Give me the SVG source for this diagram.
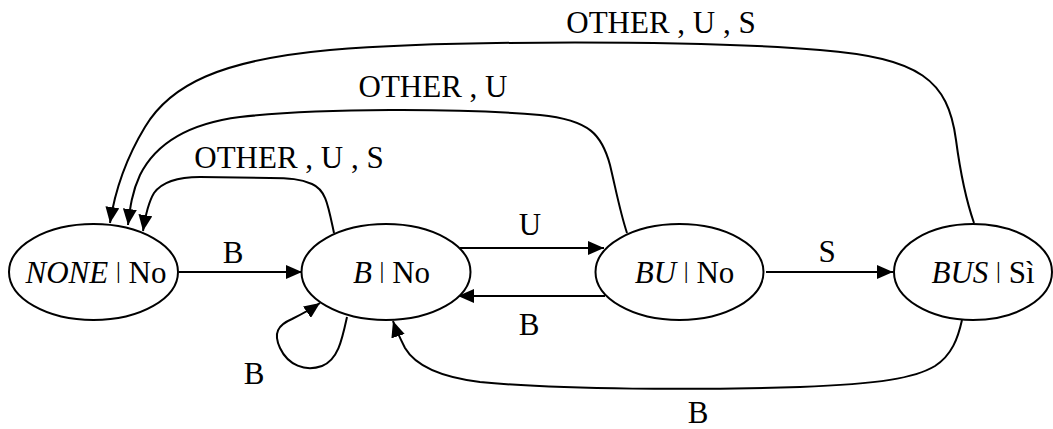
<svg xmlns="http://www.w3.org/2000/svg" width="1053" height="429" viewBox="0 0 1053 429">
  <style>
    text { font-family: "Liberation Serif", "Times New Roman", Times, serif; font-size: 31px; fill: #000; }
    .lbl { text-anchor: middle; }
    .it { font-style: italic; }
    .bar { font-size: 24px; }
    .state { fill: #fff; stroke: #000; stroke-width: 2; }
    .edge { fill: none; stroke: #000; stroke-width: 2; marker-end: url(#arrow); }
  </style>
  <defs>
    <marker id="arrow" markerUnits="userSpaceOnUse" viewBox="0 0 16 14" markerWidth="16" markerHeight="14" refX="16" refY="7" orient="auto">
      <path d="M0,0 L16,7 L0,14 Z" fill="#000"/>
    </marker>
  </defs>

  <rect width="1053" height="429" fill="#fff"/>

  <!-- transitions -->
  <g id="edges">
    <!-- NONE -> B -->
    <path class="edge" d="M179,272 L302,272"/>
    <text class="lbl" x="233" y="263">B</text>

    <!-- B -> BU -->
    <path class="edge" d="M460,248 L604,248"/>
    <text class="lbl" x="530" y="235">U</text>

    <!-- BU -> B -->
    <path class="edge" d="M605,296 L458,296"/>
    <text class="lbl" x="529" y="335">B</text>

    <!-- BU -> BUS -->
    <path class="edge" d="M766,272 L893,272"/>
    <text class="lbl" x="827" y="262">S</text>

    <!-- B -> B (self loop) -->
    <path class="edge" d="M347,317 C342,340 338,360 322,366 C305,372 288,365 280,348 C273,333 278,325 292,319 C300,315 310,310 320,303"/>
    <text class="lbl" x="254" y="384">B</text>

    <!-- B -> NONE -->
    <path class="edge" d="M334,233 C328,205 326,190 312,184 C300,179 290,178 270,178 L200,177 C178,177 162,182 154,193 C148,203 145,218 143,231"/>
    <text class="lbl" x="289" y="168">OTHER , U , S</text>

    <!-- BU -> NONE -->
    <path class="edge" d="M627,233 C620,212 616,190 610,165 C602,135 590,120 540,115 C460,108 320,108 240,117 C185,124 155,145 140,175 C132,192 130,208 128,225"/>
    <text class="lbl" x="433" y="97">OTHER , U</text>

    <!-- BUS -> NONE -->
    <path class="edge" d="M974,223 C966,200 960,170 956,140 C948,80 920,58 820,50 C700,40 450,40 330,50 C220,60 170,85 145,127 C125,160 115,190 110,223"/>
    <text class="lbl" x="661" y="33">OTHER , U , S</text>

    <!-- BUS -> B -->
    <path class="edge" d="M962,320 C958,338 952,355 935,366 C915,378 880,384 800,387 C700,390 560,390 480,382 C440,377 415,365 405,348 C400,338 396,330 393,321"/>
    <text class="lbl" x="698" y="423">B</text>
  </g>

  <!-- states -->
  <g id="state-none">
    <ellipse class="state" cx="93.5" cy="272" rx="84.5" ry="48"/>
    <text class="lbl" x="96" y="283"><tspan class="it">NONE</tspan> <tspan class="bar" dy="-5">|</tspan><tspan dy="5"> No</tspan></text>
  </g>
  <g id="state-b">
    <ellipse class="state" cx="386" cy="272" rx="84.5" ry="48"/>
    <text class="lbl" x="391.5" y="283"><tspan class="it">B</tspan> <tspan class="bar" dy="-5">|</tspan><tspan dy="5"> No</tspan></text>
  </g>
  <g id="state-bu">
    <ellipse class="state" cx="679.5" cy="272" rx="84" ry="48"/>
    <text class="lbl" x="684.5" y="283"><tspan class="it">BU</tspan> <tspan class="bar" dy="-5">|</tspan><tspan dy="5"> No</tspan></text>
  </g>
  <g id="state-bus">
    <ellipse class="state" cx="973" cy="272" rx="79" ry="48"/>
    <text class="lbl" x="983" y="283"><tspan class="it">BUS</tspan> <tspan class="bar" dy="-5">|</tspan><tspan dy="5"> Sì</tspan></text>
  </g>
</svg>
